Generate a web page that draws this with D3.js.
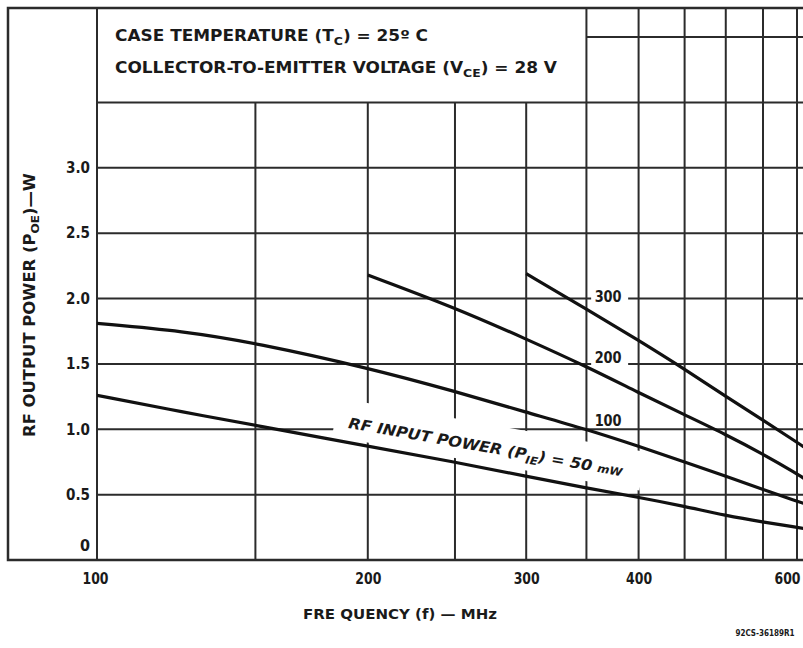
<!DOCTYPE html>
<html>
<head>
<meta charset="utf-8">
<script src="https://d3js.org/d3.v7.min.js"></script>
<style>
  body { margin: 0; background: #fff; }
  text { font-family: "DejaVu Sans Condensed", "DejaVu Sans", sans-serif; font-weight: bold; fill: #1a1a1a; }
</style>
</head>
<body>
<script>
  var w = 803, h = 648;

  // axis ticks / grid
  var freqGrid = [150, 200, 250, 300, 350, 400, 450, 500, 550, 600];
  var freqLabels = [100, 200, 300, 400, 600];
  var powerGrid = [0.5, 1.0, 1.5, 2.0, 2.5, 3.0];
  var powerLabels = [0, 0.5, 1.0, 1.5, 2.0, 2.5, 3.0];

  // curves (MHz -> W), one per RF input power
  var freq50 = [100, 125, 150, 200, 250, 300, 350, 400, 450, 500, 550, 600, 612];
  var pout50 = [1.26, 1.13, 1.03, 0.87, 0.75, 0.64, 0.55, 0.48, 0.41, 0.34, 0.29, 0.25, 0.24];
  var freq100 = [100, 125, 150, 200, 250, 300, 350, 400, 450, 500, 550, 600, 612];
  var pout100 = [1.81, 1.75, 1.66, 1.47, 1.29, 1.13, 1.00, 0.87, 0.75, 0.64, 0.54, 0.45, 0.43];
  var freq200 = [200, 250, 300, 350, 400, 450, 500, 550, 600, 612];
  var pout200 = [2.18, 1.93, 1.69, 1.48, 1.28, 1.11, 0.96, 0.81, 0.66, 0.62];
  var freq300 = [300, 350, 400, 450, 500, 550, 600, 612];
  var pout300 = [2.19, 1.92, 1.68, 1.46, 1.25, 1.07, 0.90, 0.86];

  var svg = d3.select("body").append("svg")
    .attr("width", w)
    .attr("height", h);

  var x = d3.scaleLog().domain([100, 600]).range([97, 797]);
  var y = d3.scaleLinear().domain([0, 4]).range([560, 37]);

  var pLeft = 97, pRight = 803, pTop = 8, pBottom = 560;

  svg.append("defs").append("clipPath").attr("id", "plot")
    .append("rect").attr("x", pLeft).attr("y", pTop).attr("width", pRight - pLeft).attr("height", pBottom - pTop);

  var grid = svg.append("g").attr("stroke", "#2b2b2b").attr("stroke-width", 2);

  // vertical grid: below the header box for f < 350, full height otherwise
  grid.selectAll("line.v")
    .data(freqGrid)
    .enter().append("line")
    .attr("class", "v")
    .attr("x1", d => x(d)).attr("x2", d => x(d))
    .attr("y1", d => d >= 350 ? pTop : y(3.5))
    .attr("y2", pBottom);

  // horizontal grid
  grid.selectAll("line.h")
    .data(powerGrid)
    .enter().append("line")
    .attr("class", "h")
    .attr("x1", pLeft).attr("x2", pRight)
    .attr("y1", d => y(d)).attr("y2", d => y(d));

  // header box bottom + top-right 4.0 line
  grid.append("line").attr("x1", pLeft).attr("x2", pRight).attr("y1", y(3.5)).attr("y2", y(3.5));
  grid.append("line").attr("x1", x(350)).attr("x2", pRight).attr("y1", y(4)).attr("y2", y(4));

  // frame
  grid.append("line").attr("x1", pLeft).attr("x2", pLeft).attr("y1", pTop).attr("y2", pBottom);
  svg.append("path")
    .attr("d", "M" + pRight + "," + pTop + "H8V" + pBottom + "H" + pRight)
    .attr("fill", "none").attr("stroke", "#2b2b2b").attr("stroke-width", 2.5);

  // curve labels, 300 and 200 break the grid line they sit on
  var labelFreq = 370;
  var curveLabels = [{t: "300", p: 2.02, gap: true}, {t: "200", p: 1.555, gap: true}, {t: "100", p: 1.07, gap: false}];

  var gaps = svg.append("g");
  var labels = svg.append("g");

  // RF input label (rotated along the 50 mW curve), white band cuts the grid
  var rf = svg.append("g")
    .attr("transform", "translate(" + x(190) + "," + y(1.01) + ") rotate(10)");
  rf.append("rect")
    .attr("x", -14).attr("y", -28).attr("width", 312).attr("height", 39)
    .attr("fill", "#fff");

  // hand-read points, so smooth them with a basis spline
  var line = d3.line()
    .x(d => x(d[0]))
    .y(d => y(d[1]))
    .curve(d3.curveBasis);

  var series = [
    d3.zip(freq50, pout50),
    d3.zip(freq100, pout100),
    d3.zip(freq200, pout200),
    d3.zip(freq300, pout300)
  ];

  curveLabels.forEach(function (c) {
    if (c.gap) {
      gaps.append("rect")
        .attr("x", x(labelFreq) - 17).attr("y", y(c.p) - 11)
        .attr("width", 37).attr("height", 21)
        .attr("fill", "#fff");
    }
    labels.append("text")
      .attr("x", x(labelFreq)).attr("y", y(c.p) + 6)
      .attr("text-anchor", "middle")
      .attr("font-size", 15)
      .attr("textLength", 27).attr("lengthAdjust", "spacingAndGlyphs")
      .text(c.t);
  });

  svg.append("g").attr("clip-path", "url(#plot)")
    .selectAll("path")
    .data(series)
    .enter().append("path")
    .attr("d", d => line(d))
    .attr("fill", "none")
    .attr("stroke", "#111")
    .attr("stroke-width", 3.2);

  var rfText = rf.append("text")
    .attr("x", 0).attr("y", 0)
    .attr("font-size", 15)
    .attr("font-style", "italic")
    .attr("font-weight", "normal")
    .attr("textLength", 278).attr("lengthAdjust", "spacingAndGlyphs");
  rfText.append("tspan").text("RF INPUT POWER (P");
  rfText.append("tspan").attr("font-size", 11).attr("dy", 4).text("IE");
  rfText.append("tspan").attr("dy", -4).text(") = 50 ");
  rfText.append("tspan").attr("font-size", 11).text("mW");
  labels.raise();

  // axes
  var xAxis = d3.axisBottom(x)
    .tickValues(freqLabels)
    .tickFormat(d3.format("d"))
    .tickSize(0)
    .tickPadding(0);
  var gx = svg.append("g").attr("transform", "translate(0," + 584 + ")").call(xAxis);
  gx.select(".domain").remove();
  gx.selectAll("text")
    .attr("fill", "#1a1a1a").attr("font-size", 15).attr("dy", 0)
    .attr("textLength", 26).attr("lengthAdjust", "spacingAndGlyphs")
    .attr("x", d => d === 600 ? -10 : (d === 100 ? -2 : 0));

  var yAxis = d3.axisLeft(y)
    .tickValues(powerLabels)
    .tickFormat(d => d === 0 ? "0" : d3.format(".1f")(d))
    .tickSize(0)
    .tickPadding(7);
  var gy = svg.append("g").attr("transform", "translate(" + pLeft + ",0)").call(yAxis);
  gy.select(".domain").remove();
  gy.selectAll("text")
    .attr("fill", "#1a1a1a").attr("font-size", 16)
    .attr("dy", d => d === 0 ? "-0.6em" : "0.3em")
    .each(function (d) {
      if (d !== 0) d3.select(this).attr("textLength", 24).attr("lengthAdjust", "spacingAndGlyphs");
    });

  // header text
  var t1 = svg.append("text").attr("x", 115).attr("y", 41).attr("font-size", 15)
    .attr("textLength", 313).attr("lengthAdjust", "spacingAndGlyphs");
  t1.append("tspan").text("CASE TEMPERATURE (T");
  t1.append("tspan").attr("font-size", 11).attr("dy", 4).text("C");
  t1.append("tspan").attr("dy", -4).text(") =  25º C");

  var t2 = svg.append("text").attr("x", 115).attr("y", 73).attr("font-size", 15)
    .attr("textLength", 442).attr("lengthAdjust", "spacingAndGlyphs");
  t2.append("tspan").text("COLLECTOR-TO-EMITTER VOLTAGE (V");
  t2.append("tspan").attr("font-size", 11).attr("dy", 4).text("CE");
  t2.append("tspan").attr("dy", -4).text(") = 28 V");

  // axis titles
  var yt = svg.append("text")
    .attr("transform", "translate(35," + 437 + ") rotate(-90)")
    .attr("font-size", 15)
    .attr("textLength", 264).attr("lengthAdjust", "spacingAndGlyphs");
  yt.append("tspan").text("RF OUTPUT POWER (P");
  yt.append("tspan").attr("font-size", 11).attr("dy", 4).text("OE");
  yt.append("tspan").attr("dy", -4).text(")—W");

  svg.append("text")
    .attr("x", 400).attr("y", 619)
    .attr("text-anchor", "middle")
    .attr("font-size", 14)
    .attr("textLength", 194).attr("lengthAdjust", "spacingAndGlyphs")
    .text("FRE QUENCY (f) — MHz");

  svg.append("text")
    .attr("x", 765).attr("y", 636)
    .attr("text-anchor", "middle")
    .attr("font-size", 8)
    .attr("font-weight", "normal")
    .attr("fill", "#555")
    .text("92CS-36189R1");
</script>
</body>
</html>
